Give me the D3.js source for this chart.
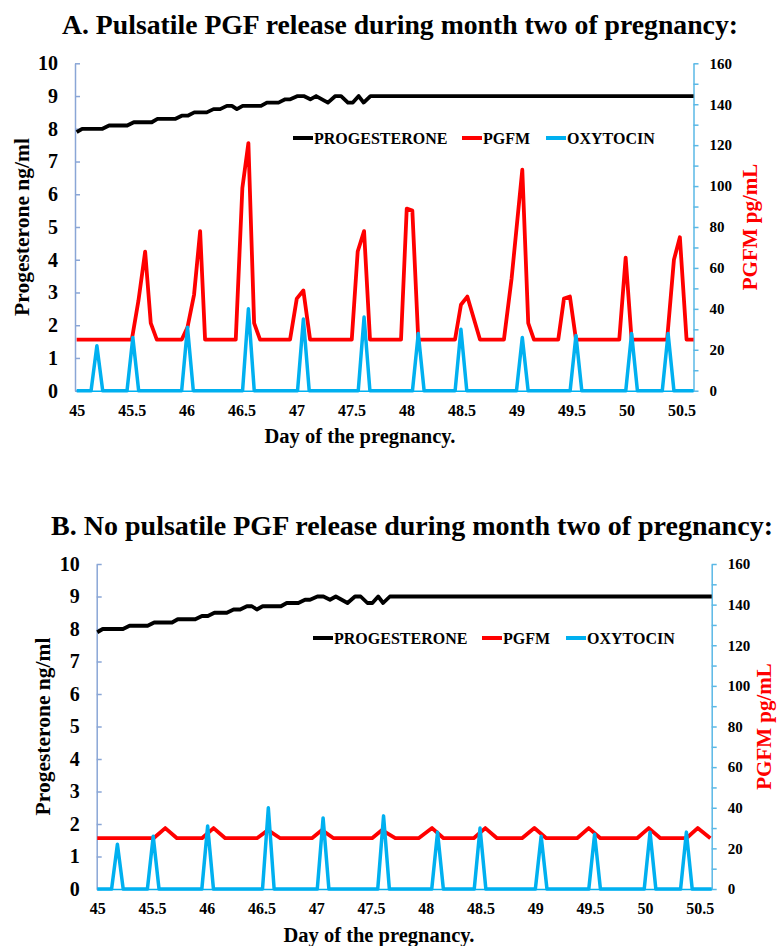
<!DOCTYPE html>
<html>
<head>
<meta charset="utf-8">
<script src="https://cdn.jsdelivr.net/npm/d3@7"></script>
<style>
  body { margin: 0; background: #fff; }
  text { font-family: "Liberation Serif", "Times New Roman", serif; font-weight: bold; }
</style>
</head>
<body>
<svg id="chart" width="777" height="946"></svg>
<script>
// tick labels
var dayTicks = [45, 45.5, 46, 46.5, 47, 47.5, 48, 48.5, 49, 49.5, 50, 50.5];
var progTicks = [0, 1, 2, 3, 4, 5, 6, 7, 8, 9, 10];
var pgfmTicks = [0, 10, 20, 30, 40, 50, 60, 70, 80, 90, 100, 110, 120, 130, 140, 150, 160];

// progesterone ng/ml (same curve in both panels)
var progDays = [45.0, 45.05, 45.235, 45.295, 45.46, 45.52, 45.683, 45.735, 45.895, 45.956,
  46.01, 46.07, 46.183, 46.245, 46.305, 46.366, 46.412, 46.457, 46.51, 46.677,
  46.73, 46.836, 46.897, 46.943, 47.01, 47.065, 47.125, 47.178, 47.285, 47.353,
  47.405, 47.467, 47.512, 47.565, 47.61, 47.672, 50.61];
var progValues = [7.9, 8.0, 8.0, 8.1, 8.1, 8.2, 8.2, 8.3, 8.3, 8.4,
  8.4, 8.5, 8.5, 8.6, 8.6, 8.7, 8.7, 8.6, 8.7, 8.7,
  8.8, 8.8, 8.9, 8.9, 9.0, 9.0, 8.9, 9.0, 8.8, 9.0,
  9.0, 8.8, 8.8, 9.0, 8.8, 9.0, 9.0];

// oxytocin pg/mL (same pulses in both panels)
var oxyDays = [45.0, 45.131, 45.184, 45.237, 45.458, 45.511, 45.564, 45.955, 46.008, 46.061,
  46.509, 46.562, 46.615, 47.009, 47.062, 47.115, 47.561, 47.614, 47.667, 48.054,
  48.107, 48.16, 48.442, 48.495, 48.548, 49.0, 49.053, 49.106, 49.488, 49.541,
  49.594, 49.994, 50.047, 50.1, 50.326, 50.379, 50.432, 50.61];
var oxyValues = [0, 0, 22, 0, 0, 26, 0, 0, 31, 0,
  0, 40, 0, 0, 35, 0, 0, 36, 0, 0,
  28, 0, 0, 30, 0, 0, 26, 0, 0, 27,
  0, 0, 28, 0, 0, 28, 0, 0];

// PGFM pg/mL, panel A (pulsatile)
var pgfmPulseDays = [45.0, 45.502, 45.562, 45.623, 45.674, 45.729, 45.956, 46.008, 46.068, 46.123,
  46.168, 46.447, 46.507, 46.562, 46.614, 46.668, 46.941, 47.002, 47.062, 47.123,
  47.502, 47.556, 47.614, 47.668, 47.95, 48.002, 48.053, 48.107, 48.441, 48.495,
  48.553, 48.668, 48.886, 48.956, 49.053, 49.107, 49.159, 49.38, 49.432, 49.486,
  49.541, 49.935, 49.993, 50.047, 50.37, 50.432, 50.486, 50.547, 50.61];
var pgfmPulseValues = [25, 25, 44, 68, 33, 25, 25, 31, 47, 78,
  25, 25, 99, 121, 33, 25, 25, 45, 49, 25,
  25, 68, 78, 25, 25, 89, 88, 25, 25, 42,
  46, 25, 25, 55, 108, 33, 25, 25, 45, 46,
  25, 25, 65, 25, 25, 64, 75, 25, 25];

// PGFM pg/mL, panel B (no pulses)
var pgfmFlatDays = [45.0, 45.514, 45.621, 45.728, 45.956, 46.062, 46.169, 46.458, 46.559, 46.671,
  46.96, 47.052, 47.158, 47.509, 47.6, 47.721, 47.934, 48.057, 48.162, 48.437,
  48.543, 48.65, 48.878, 48.991, 49.1, 49.381, 49.487, 49.594, 49.929, 50.035,
  50.142, 50.379, 50.482, 50.598];
var pgfmFlatValues = [25, 25, 30, 25, 25, 30, 25, 25, 29, 25,
  25, 29, 25, 25, 29, 25, 25, 30, 25, 25,
  30, 25, 25, 30, 25, 25, 30, 25, 25, 30,
  25, 25, 30, 25];

var legendNames = ["PROGESTERONE", "PGFM", "OXYTOCIN"];
var colors = ["#000000", "#ff0000", "#00b0f0"];

var panels = [
  {
    title: "A. Pulsatile PGF release during month two of pregnancy:",
    titleX: 400, titleY: 34, titleLen: 676,
    left: 75, right: 693.5, top: 63.3, bottom: 390.7, xDomain: [44.985, 50.61],
    pgfmDays: pgfmPulseDays, pgfmValues: pgfmPulseValues,
    yTitleX: 22.5, y2TitleX: 751, xTitleX: 360, xTitleY: 443,
    legendX: 293, legendY: 138
  },
  {
    title: "B. No pulsatile PGF release during month two of pregnancy:",
    titleX: 412, titleY: 535, titleLen: 722,
    left: 96.7, right: 711.7, top: 564, bottom: 889, xDomain: [44.995, 50.61],
    pgfmDays: pgfmFlatDays, pgfmValues: pgfmFlatValues,
    yTitleX: 43.5, y2TitleX: 765, xTitleX: 379, xTitleY: 942,
    legendX: 313, legendY: 638
  }
];

var svg = d3.select("#chart");

panels.forEach(function (p) {
  var g = svg.append("g");

  var x = d3.scaleLinear().domain(p.xDomain).range([p.left, p.right]);
  var yLeft = d3.scaleLinear().domain([0, 10]).range([p.bottom, p.top]);
  var yRight = d3.scaleLinear().domain([0, 160]).range([p.bottom, p.top]);

  // title
  g.append("text")
    .attr("x", p.titleX)
    .attr("y", p.titleY)
    .attr("text-anchor", "middle")
    .attr("textLength", p.titleLen)
    .attr("lengthAdjust", "spacingAndGlyphs")
    .style("font-size", "27.5px")
    .text(p.title);

  // x axis
  var xAxis = g.append("g")
    .attr("transform", `translate(0, ${p.bottom})`)
    .call(d3.axisBottom(x).tickValues(dayTicks).tickSize(0).tickPadding(13.5)
      .tickFormat(d => String(d)));
  xAxis.select(".domain").attr("stroke", "#00b0f0").attr("stroke-width", 1.5);
  xAxis.selectAll("text").style("font-size", "16px").attr("fill", "#000");

  // left axis
  var leftAxis = g.append("g")
    .attr("transform", `translate(${p.left}, 0)`)
    .call(d3.axisLeft(yLeft).tickValues(progTicks).tickSizeInner(-5).tickSizeOuter(0).tickPadding(17));
  leftAxis.selectAll("path, line").attr("stroke", "#8aa6d6").attr("stroke-width", 1.5);
  leftAxis.selectAll("text").style("font-size", "20px").attr("fill", "#000");

  // right axis
  var rightAxis = g.append("g")
    .attr("transform", `translate(${p.right}, 0)`)
    .call(d3.axisRight(yRight).tickValues(pgfmTicks).tickSizeInner(5).tickSizeOuter(0).tickPadding(11)
      .tickFormat(d => d % 20 === 0 ? d : ""));
  rightAxis.selectAll("path, line").attr("stroke", "#5ab8e6").attr("stroke-width", 1.5);
  rightAxis.selectAll("text").style("font-size", "15px").attr("fill", "#000");

  // axis titles
  g.append("text")
    .attr("transform", `translate(${p.yTitleX}, ${(p.top + p.bottom) / 2}) rotate(-90)`)
    .attr("text-anchor", "middle")
    .attr("dy", "0.3em")
    .style("font-size", "21.5px")
    .text("Progesterone ng/ml");

  g.append("text")
    .attr("transform", `translate(${p.y2TitleX}, ${(p.top + p.bottom) / 2}) rotate(-90)`)
    .attr("text-anchor", "middle")
    .attr("dy", "0.3em")
    .attr("fill", "#ff0000")
    .style("font-size", "21px")
    .text("PGFM pg/mL");

  g.append("text")
    .attr("x", p.xTitleX)
    .attr("y", p.xTitleY)
    .attr("text-anchor", "middle")
    .style("font-size", "20.5px")
    .text("Day of the pregnancy.");

  // series
  var lineLeft = d3.line().x(d => x(d[0])).y(d => yLeft(d[1]));
  var lineRight = d3.line().x(d => x(d[0])).y(d => yRight(d[1]));

  var series = [
    lineLeft(d3.zip(progDays, progValues)),
    lineRight(d3.zip(p.pgfmDays, p.pgfmValues)),
    lineRight(d3.zip(oxyDays, oxyValues))
  ];

  g.selectAll("path.series")
    .data(series)
    .enter()
    .append("path")
    .attr("class", "series")
    .attr("d", d => d)
    .attr("fill", "none")
    .attr("stroke", (d, i) => colors[i])
    .attr("stroke-width", (d, i) => i === 2 ? 3.5 : 3.8)
    .attr("stroke-linejoin", "round");

  // legend
  var legendOffsets = [0, 169, 253];
  var legend = g.selectAll("g.legend")
    .data(legendNames)
    .enter()
    .append("g")
    .attr("class", "legend")
    .attr("transform", (d, i) => `translate(${p.legendX + legendOffsets[i]}, ${p.legendY})`);

  legend.append("line")
    .attr("x1", 0).attr("x2", 20)
    .attr("y1", 0).attr("y2", 0)
    .attr("stroke", (d, i) => colors[i])
    .attr("stroke-width", 4);

  legend.append("text")
    .attr("x", 21)
    .attr("y", 5.5)
    .style("font-size", "16px")
    .text(d => d);
});
</script>
</body>
</html>
